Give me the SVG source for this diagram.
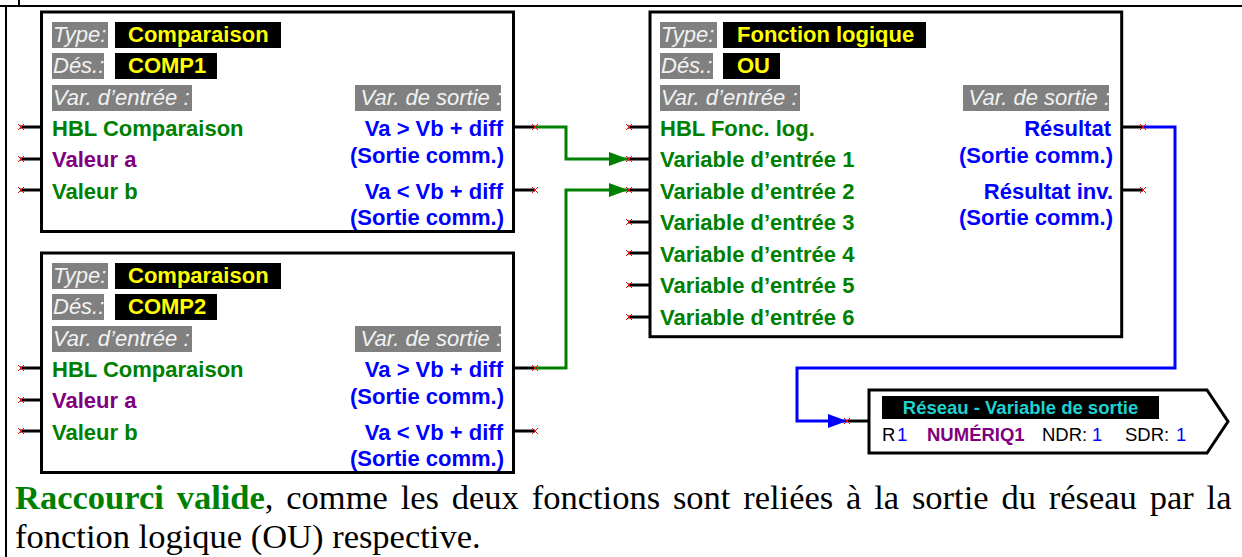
<svg xmlns="http://www.w3.org/2000/svg" xmlns:xlink="http://www.w3.org/1999/xlink" width="1242" height="557" viewBox="0 0 1242 557">
<style>
.box{fill:#fff;stroke:#000;stroke-width:3}
.t{font-family:"Liberation Sans",Arial,sans-serif;font-size:22px;font-weight:bold}
.it{font-family:"Liberation Sans",Arial,sans-serif;font-size:22px;font-style:italic;fill:#f2f2f2}
.gr{fill:#808080}
.bk{fill:#000}
.y{fill:#ffff00}
.g{fill:#008000}
.p{fill:#800080}
.b{fill:#0000ff}
.e{text-anchor:end}
.stub{stroke:#000;stroke-width:3;fill:none}
.wg{stroke:#008000;stroke-width:3;fill:none}
.wb{stroke:#0000ff;stroke-width:3;fill:none}
.frame{stroke:#000;stroke-width:2;fill:none}
.s{font-family:"Liberation Sans",Arial,sans-serif;font-size:18.5px}
.cap{font-family:"Liberation Serif","Times New Roman",serif;font-size:34.5px;fill:#000}
</style>
<defs>
<path id="x" d="M-3,-3L3,3M-3,3L3,-3" stroke="#ff0000" stroke-width="1" fill="none"/>
<marker id="ag" viewBox="0 0 19 14" refX="19" refY="7" markerWidth="19" markerHeight="14" markerUnits="userSpaceOnUse" orient="auto"><path d="M0,0L19,7L0,14z" fill="#008000"/></marker>
<marker id="ab" viewBox="0 0 19 14" refX="19" refY="7" markerWidth="19" markerHeight="14" markerUnits="userSpaceOnUse" orient="auto"><path d="M0,0L19,7L0,14z" fill="#0000ff"/></marker>
</defs>
<rect width="1242" height="557" fill="#fff"/>
<g id="frame">
<path class="frame" d="M0,6H1242M6,6V557M19,0V6"/>
</g>

<g id="comp1">
<rect class="box" x="41.5" y="12" width="472" height="219.5"/>
<rect class="gr" x="52" y="22" width="56" height="26"/>
<text class="it" x="53" y="42">Type:</text>
<rect class="bk" x="115" y="22" width="166" height="26"/>
<text class="t y" x="128" y="42">Comparaison</text>
<rect class="gr" x="52" y="53" width="52" height="26"/>
<text class="it" x="53" y="73">Dés.:</text>
<rect class="bk" x="115" y="53" width="102" height="26"/>
<text class="t y" x="128" y="73">COMP1</text>
<rect class="gr" x="52" y="85" width="140" height="26"/>
<text class="it" x="53" y="105">Var. d’entrée :</text>
<text class="t g" x="52" y="136">HBL Comparaison</text>
<text class="t p" x="52" y="167">Valeur a</text>
<text class="t g" x="52" y="199">Valeur b</text>
<rect class="gr" x="355" y="85" width="146" height="26"/>
<text class="it e" x="502" y="105">Var. de sortie :</text>
<text class="t b e" x="503" y="136">Va &gt; Vb + diff</text>
<text class="t b e" x="504" y="163">(Sortie comm.)</text>
<text class="t b e" x="503" y="199">Va &lt; Vb + diff</text>
<text class="t b e" x="504" y="225">(Sortie comm.)</text>
<path class="stub" d="M20,127H41M20,159H41M20,190H41M513,127H535M513,190H535"/>
<use xlink:href="#x" x="21" y="127"/><use xlink:href="#x" x="21" y="159"/><use xlink:href="#x" x="21" y="190"/>
<use xlink:href="#x" x="535" y="127"/><use xlink:href="#x" x="535" y="190"/>
</g>

<g id="comp2" transform="translate(0,241)">
<rect class="box" x="41.5" y="12" width="472" height="219.5"/>
<rect class="gr" x="52" y="22" width="56" height="26"/>
<text class="it" x="53" y="42">Type:</text>
<rect class="bk" x="115" y="22" width="166" height="26"/>
<text class="t y" x="128" y="42">Comparaison</text>
<rect class="gr" x="52" y="53" width="52" height="26"/>
<text class="it" x="53" y="73">Dés.:</text>
<rect class="bk" x="115" y="53" width="102" height="26"/>
<text class="t y" x="128" y="73">COMP2</text>
<rect class="gr" x="52" y="85" width="140" height="26"/>
<text class="it" x="53" y="105">Var. d’entrée :</text>
<text class="t g" x="52" y="136">HBL Comparaison</text>
<text class="t p" x="52" y="167">Valeur a</text>
<text class="t g" x="52" y="199">Valeur b</text>
<rect class="gr" x="355" y="85" width="146" height="26"/>
<text class="it e" x="502" y="105">Var. de sortie :</text>
<text class="t b e" x="503" y="136">Va &gt; Vb + diff</text>
<text class="t b e" x="504" y="163">(Sortie comm.)</text>
<text class="t b e" x="503" y="199">Va &lt; Vb + diff</text>
<text class="t b e" x="504" y="225">(Sortie comm.)</text>
<path class="stub" d="M20,127H41M20,159H41M20,190H41M513,127H535M513,190H535"/>
<use xlink:href="#x" x="21" y="127"/><use xlink:href="#x" x="21" y="159"/><use xlink:href="#x" x="21" y="190"/>
<use xlink:href="#x" x="535" y="127"/><use xlink:href="#x" x="535" y="190"/>
</g>

<g id="ou">
<rect class="box" x="650" y="12" width="471.7" height="324.7"/>
<rect class="gr" x="660" y="22" width="57" height="26"/>
<text class="it" x="661" y="42">Type:</text>
<rect class="bk" x="723" y="22" width="203" height="26"/>
<text class="t y" x="737" y="42">Fonction logique</text>
<rect class="gr" x="660" y="53" width="53" height="26"/>
<text class="it" x="661" y="73">Dés.:</text>
<rect class="bk" x="723" y="53" width="57" height="26"/>
<text class="t y" x="737" y="73">OU</text>
<rect class="gr" x="660" y="85" width="140" height="26"/>
<text class="it" x="661" y="105">Var. d’entrée :</text>
<text class="t g" x="660" y="136">HBL Fonc. log.</text>
<text class="t g" x="660" y="167">Variable d’entrée 1</text>
<text class="t g" x="660" y="199">Variable d’entrée 2</text>
<text class="t g" x="660" y="230">Variable d’entrée 3</text>
<text class="t g" x="660" y="262">Variable d’entrée 4</text>
<text class="t g" x="660" y="293">Variable d’entrée 5</text>
<text class="t g" x="660" y="325">Variable d’entrée 6</text>
<rect class="gr" x="963" y="85" width="146" height="26"/>
<text class="it e" x="1110" y="105">Var. de sortie :</text>
<text class="t b e" x="1111" y="136">Résultat</text>
<text class="t b e" x="1113" y="163">(Sortie comm.)</text>
<text class="t b e" x="1113" y="199">Résultat inv.</text>
<text class="t b e" x="1113" y="225">(Sortie comm.)</text>
<path class="stub" d="M628,127H650M628,159H650M628,190H650M628,222H650M628,253H650M628,285H650M628,317H650M1122,127H1143M1122,190H1143"/>
<use xlink:href="#x" x="629" y="127"/><use xlink:href="#x" x="629" y="159"/><use xlink:href="#x" x="629" y="190"/>
<use xlink:href="#x" x="629" y="222"/><use xlink:href="#x" x="629" y="253"/><use xlink:href="#x" x="629" y="285"/>
<use xlink:href="#x" x="629" y="317"/>
<use xlink:href="#x" x="1143" y="127"/><use xlink:href="#x" x="1143" y="190"/>
</g>

<g id="netout">
<polygon class="box" points="869,390 1207,390 1228,421.5 1207,453 869,453"/>
<rect class="bk" x="882" y="396" width="277" height="23"/>
<text class="s" x="1020.5" y="413.5" text-anchor="middle" font-weight="bold" font-size="19.5" fill="#1ed2d2">Réseau - Variable de sortie</text>
<text class="s" y="441"><tspan x="882" fill="#000">R</tspan><tspan x="897" class="b">1</tspan><tspan x="927" class="p" font-weight="bold">NUMÉRIQ1</tspan><tspan x="1042" fill="#000">NDR:</tspan><tspan x="1092" class="b">1</tspan><tspan x="1125" fill="#000">SDR:</tspan><tspan x="1176" class="b">1</tspan></text>
<path class="stub" d="M847,421H869"/>
</g>

<g id="connectors">
<path class="wg" d="M535,127H566V159H628" marker-end="url(#ag)"/>
<path class="wg" d="M535,368H566V190H628" marker-end="url(#ag)"/>
<path class="wb" d="M1143,127H1175V368H797V421H847" marker-end="url(#ab)"/>
<use xlink:href="#x" x="629" y="159"/><use xlink:href="#x" x="629" y="190"/>
<use xlink:href="#x" x="535" y="127"/><use xlink:href="#x" x="535" y="368"/>
<use xlink:href="#x" x="1143" y="127"/><use xlink:href="#x" x="847" y="421"/>
</g>

<g id="caption">
<text class="cap" x="15" y="509" word-spacing="4.2"><tspan font-weight="bold" fill="#008000">Raccourci valide</tspan>, comme les deux fonctions sont reliées à la sortie du réseau par la</text>
<text class="cap" x="15" y="548">fonction logique (OU) respective.</text>
</g>
</svg>
